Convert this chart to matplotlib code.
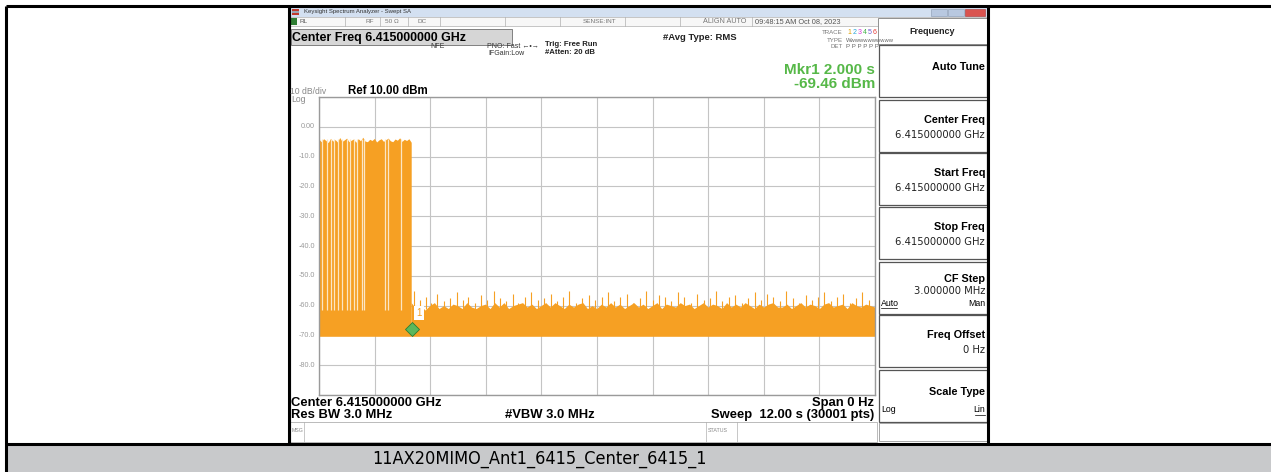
import numpy as np
import matplotlib.pyplot as plt
import matplotlib.transforms as mtransforms
from matplotlib import font_manager
from matplotlib.patches import Rectangle

W, H = 1271, 472

# --- values ---
sweep_s = 12.0
ref_dbm = 10.0
db_per_div = 10.0
y_tick_labels = ['0.00', '-10.0', '-20.0', '-30.0', '-40.0', '-50.0', '-60.0', '-70.0', '-80.0']

burst_t = np.linspace(0.0, 1.99, 41)
burst_top = [-4.2, -5.0, -4.0, -4.6, -5.3, -3.9, -4.8, -4.3, -5.1, -3.6,
             -4.9, -4.4, -3.8, -5.0, -4.5, -4.1, -5.2, -4.0, -4.7, -3.5,
             -4.8, -5.0, -4.2, -4.6, -3.9, -5.1, -4.4, -4.0, -4.9, -4.3,
             -3.8, -4.7, -5.0, -4.1, -4.5, -3.7, -4.9, -4.2, -4.6, -4.0, -5.2]
gap_t = [0.06, 0.17, 0.26, 0.33, 0.42, 0.50, 0.60, 0.66, 0.76, 0.83,
         0.92, 0.97, 1.42, 1.48, 1.78]

floor_t = np.linspace(1.99, 12.0, 101)
floor_top = [-59, -61, -60, -61.5, -60, -59, -61, -60, -61, -59.5,
             -60, -61, -59, -60.5, -61, -60, -59.5, -61, -59, -60.5,
             -59, -61, -60, -59.5, -59, -60.5, -59.5, -61, -60, -59,
             -60.5, -59, -60, -61, -59.5, -60.5, -59.5, -59, -61, -60,
             -61, -59.5, -60.5, -59, -60.5, -59.5, -61, -60, -59, -60.5,
             -59.5, -61, -60, -59, -61, -59.5, -60, -60.5, -59, -60,
             -59.5, -61, -60, -59, -60.5, -59.5, -60, -61, -59, -60.5,
             -59.5, -60.5, -59, -60, -61, -59.5, -60.5, -59.5, -59, -60.5,
             -60.5, -59.5, -61, -60, -59, -60.5, -59.5, -60, -61, -59.5,
             -59, -60.5, -60, -59.5, -61, -59, -60, -60.5, -59.5, -60, -60.5]
floor_bottom = -70.3

spike_t = [2.05, 2.18, 2.3, 2.42, 2.55, 2.7, 2.83, 2.97, 3.1, 3.22,
           3.36, 3.5, 3.63, 3.77, 3.9, 4.04, 4.18, 4.3, 4.45, 4.58,
           4.72, 4.86, 5.0, 5.13, 5.27, 5.4, 5.55, 5.68, 5.82, 5.96,
           6.1, 6.24, 6.37, 6.5, 6.65, 6.78, 6.92, 7.05, 7.2, 7.33,
           7.47, 7.6, 7.75, 7.88, 8.02, 8.16, 8.3, 8.43, 8.57, 8.7,
           8.85, 8.98, 9.12, 9.26, 9.4, 9.53, 9.67, 9.8, 9.95, 10.08,
           10.22, 10.36, 10.5, 10.63, 10.77, 10.9, 11.05, 11.18, 11.32, 11.46,
           11.6, 11.73, 11.87]
spike_top = [-55, -58, -57, -59, -56, -58.5, -57.5, -55.5, -58, -57,
             -59, -56.5, -58, -55, -57.5, -58.5, -56, -59, -57, -55.5,
             -58, -57.5, -56, -58.5, -57, -55, -59, -57.5, -56.5, -58,
             -57, -55.5, -58.5, -57, -56, -59, -57.5, -55, -58, -56.5,
             -57, -58.5, -55.5, -57, -59, -56, -58, -57.5, -55, -58.5,
             -57, -56.5, -59, -57.5, -55.5, -58, -56, -57, -58.5, -55,
             -57.5, -59, -56.5, -58, -57, -55.5, -58.5, -57, -56, -59,
             -57.5, -55.5, -58]

marker_t, marker_dbm = 2.0, -69.46

softkeys = [('Auto Tune', None), ('Center Freq', '6.415000000 GHz'),
            ('Start Freq', '6.415000000 GHz'), ('Stop Freq', '6.415000000 GHz'),
            ('CF Step', '3.000000 MHz'), ('Freq Offset', '0 Hz'), ('Scale Type', None)]
softkey_top = [45, 100, 153, 207, 262, 315, 370]

caption = '11AX20MIMO_Ant1_6415_Center_6415_1'

FONT = ['Liberation Sans', 'DejaVu Sans']
TRACE = '#f6a023'

installed = font_manager.fontManager.ttflist
if any(f.name == 'Liberation Sans Narrow' for f in installed):
    cap_font = dict(family='Liberation Sans Narrow', fontsize=15)
elif any(f.name == 'DejaVu Sans' and f.stretch == 'condensed' for f in installed):
    cap_font = dict(family='DejaVu Sans', fontstretch='condensed', fontsize=13)
else:
    cap_font = dict(family='Liberation Sans', fontsize=12.5)

fig = plt.figure(figsize=(W / 100, H / 100), dpi=100)
bg = fig.add_axes([0, 0, 1, 1])
bg.set_xlim(0, W)
bg.set_ylim(H, 0)
bg.axis('off')


def txt(x, y, s, size, color='black', weight='normal', ha='left', family=FONT, **kw):
    bg.text(x, y, s, fontsize=size, color=color, fontweight=weight, ha=ha,
            va='center', family=family, **kw)


def box(x0, y0, x1, y1, fc='none', ec='none', lw=0.8, z=1):
    bg.add_patch(Rectangle((x0, y0), x1 - x0, y1 - y0, fc=fc, ec=ec, lw=lw, zorder=z))


# table around the screenshot
box(7, 445, W, H, fc='#c8c9cb', z=0)
for xs, ys in [([6, W], [6, 6]), ([6, 6], [6, H]), ([289, 289], [6, 444]),
               ([988, 988], [6, 444]), ([6, W], [444, 444])]:
    bg.plot(xs, ys, color='black', lw=2.2, solid_capstyle='butt')
bg.text(540, 458.5, caption, ha='center', va='center', **cap_font)

# window title bar
box(290, 7, 987, 17, fc='#d3e0f1')
box(292, 9, 299, 15, fc='#c0392b')
box(292, 11, 299, 13, fc='#9aa4b0')
txt(304, 12, 'Keysight Spectrum Analyzer - Swept SA', 4.3, color='#333333')
box(931, 9, 947, 16, fc='#b8c8e0', ec='#8899b0', lw=0.4)
box(948, 9, 964, 16, fc='#b8c8e0', ec='#8899b0', lw=0.4)
box(965, 9, 985, 16, fc='#d9534f', ec='#aa3333', lw=0.4)

# status row
box(290, 17, 987, 26, fc='#f7f7f7', ec='#b0b0b0', lw=0.5)
box(291, 18, 297, 25, fc='#2e7d32')
for x in [345, 380, 408, 440, 505, 560, 625, 680, 752]:
    bg.plot([x, x], [17, 26], color='#b0b0b0', lw=0.5)
txt(300, 21.5, 'RL', 4.6, color='#555555')
txt(366, 21.5, 'RF', 4.6, color='#777777')
txt(385, 21.5, '50 Ω', 4.6, color='#777777')
txt(418, 21.5, 'DC', 4.6, color='#777777')
txt(600, 21.5, 'SENSE:INT', 4.6, color='#777777', ha='center')
txt(725, 21.5, 'ALIGN AUTO', 5.2, color='#777777', ha='center')
txt(755, 21.5, '09:48:15 AM Oct 08, 2023', 5.3, color='#555555')

# settings block
box(291, 29, 512, 45, fc='#d6d6d6', ec='#707070', lw=0.6)
txt(292, 37.5, 'Center Freq 6.415000000 GHz', 8.9, weight='bold')
txt(430, 46, 'NFE', 5.0, color='#333333')
txt(487, 46, 'PNO: Fast ←•→', 5.0, color='#333333')
txt(488, 53.5, 'IFGain:Low', 5.0, color='#333333')
txt(545, 44, 'Trig: Free Run', 5.6, weight='bold', color='#222222')
txt(545, 52.5, '#Atten: 20 dB', 5.6, weight='bold', color='#222222')
txt(663, 37.5, '#Avg Type: RMS', 6.8, weight='bold', color='#222222')
txt(843, 33, 'TRACE', 4.4, color='#777777', ha='right')
txt(843, 40, 'TYPE', 4.4, color='#777777', ha='right')
txt(843, 47, 'DET', 4.4, color='#777777', ha='right')
trace_cols = ['#e0a000', '#2aa7d8', '#d63ad6', '#3cb043', '#6a5acd', '#e53935']
for i, c in enumerate(trace_cols):
    txt(847 + i * 5.2, 33, str(i + 1), 5.0, color=c)
txt(846, 40, 'W' + 'w' * 10, 4.2, color='#666666')
txt(846, 47, 'P P P P P P', 4.4, color='#666666')
txt(875, 70.5, 'Mkr1 2.000 s', 11, weight='bold', color='#56b848', ha='right')
txt(875, 84.5, f'{marker_dbm:.2f} dBm', 11, weight='bold', color='#56b848', ha='right')
txt(290, 92, '10 dB/div', 6.2, color='#888888')
txt(348, 91, f'Ref {ref_dbm:.2f} dBm', 8.3, weight='bold')
txt(291, 100, 'Log', 6.2, color='#888888')

# softkey panel
box(878, 18, 987, 44, fc='white', ec='#909090', lw=0.7)
txt(932, 31, 'Frequency', 6.5, weight='bold', color='#222222', ha='center')
for (name, val), top in zip(softkeys, softkey_top):
    box(879, top, 987, top + 52, fc='white', ec='#555555', lw=0.9)
    if name == 'CF Step':
        ny, vy = top + 17, top + 29
    elif val:
        ny, vy = top + 20, top + 35
    else:
        ny, vy = top + 22, None
    txt(985, ny, name, 7.8, weight='bold', ha='right')
    if val:
        txt(985, vy, val, 7.2, ha='right', color='#222222', family=['DejaVu Sans'])
txt(881, 303, 'Auto', 6.3)
bg.plot([881, 897], [307.5, 307.5], color='black', lw=0.5)
txt(985, 303, 'Man', 6.3, ha='right')
txt(881, 410, 'Log', 6.3)
txt(985, 410, 'Lin', 6.3, ha='right')
bg.plot([975, 985], [414.5, 414.5], color='black', lw=0.5)
box(879, 423, 987, 441, fc='white', ec='#999999', lw=0.6)

# bottom annotation and message bar
txt(291, 403, 'Center 6.415000000 GHz', 9.4, weight='bold')
txt(291, 415, 'Res BW 3.0 MHz', 9.4, weight='bold')
txt(505, 415, '#VBW 3.0 MHz', 9.4, weight='bold')
txt(874, 403, 'Span 0 Hz', 9.4, weight='bold', ha='right')
txt(874, 415, f'Sweep  {sweep_s:.2f} s (30001 pts)', 9.4, weight='bold', ha='right')
box(290, 422, 877, 442, fc='white', ec='#b0b0b0', lw=0.6)
bg.plot([304, 304], [422, 442], color='#b0b0b0', lw=0.5)
bg.plot([706, 706], [422, 442], color='#b0b0b0', lw=0.5)
bg.plot([737, 737], [422, 442], color='#b0b0b0', lw=0.5)
txt(292, 431, 'MSG', 3.8, color='#888888')
txt(708, 431, 'STATUS', 3.8, color='#888888')
bg.plot([290, 290], [7, 443], color='black', lw=1.5)

# y tick labels
for i, lab in enumerate(y_tick_labels):
    lvl = ref_dbm - (i + 1) * db_per_div
    ypx = 97 + (ref_dbm - lvl) / (10 * db_per_div) * (395 - 97)
    txt(315, ypx, lab, 5.2, color='#9a9a9a', ha='right')

# trace graticule
ax = fig.add_axes([319 / W, 1 - 395 / H, (875 - 319) / W, (395 - 97) / H])
ax.set_xlim(0, sweep_s)
ax.set_ylim(ref_dbm - 10 * db_per_div, ref_dbm)
ax.set_xticks(np.linspace(0, sweep_s, 11))
ax.set_yticks(np.linspace(ref_dbm - 10 * db_per_div, ref_dbm, 11))
ax.grid(True, color='#c4c4c4', lw=0.8)
ax.tick_params(length=0, labelbottom=False, labelleft=False)
for s in ax.spines.values():
    s.set_color('#9a9a9a')
    s.set_linewidth(1.0)
ax.set_axisbelow(True)

ax.fill_between(burst_t, floor_bottom, burst_top, color=TRACE, lw=0)
ax.vlines(gap_t, -61.5, -4, color='#fce6c4', lw=0.9)
ax.fill_between(floor_t, floor_bottom, floor_top, color=TRACE, lw=0)
ax.vlines(spike_t, -61, spike_top, color=TRACE, lw=0.8)

off = mtransforms.offset_copy(ax.transData, fig=fig, x=0, y=5, units='dots')
ax.plot(marker_t, marker_dbm, marker='D', ms=7, mfc='#5cb85c', mec='#2e7d32',
        mew=0.6, transform=off, zorder=5)
ax.text(marker_t + 0.1, marker_dbm + 7, '1', fontsize=7, color='#f6a023',
        va='center', ha='left', family=FONT, zorder=6,
        bbox=dict(fc='white', ec='none', pad=1.5))

fig.savefig('out.png', dpi=100)
